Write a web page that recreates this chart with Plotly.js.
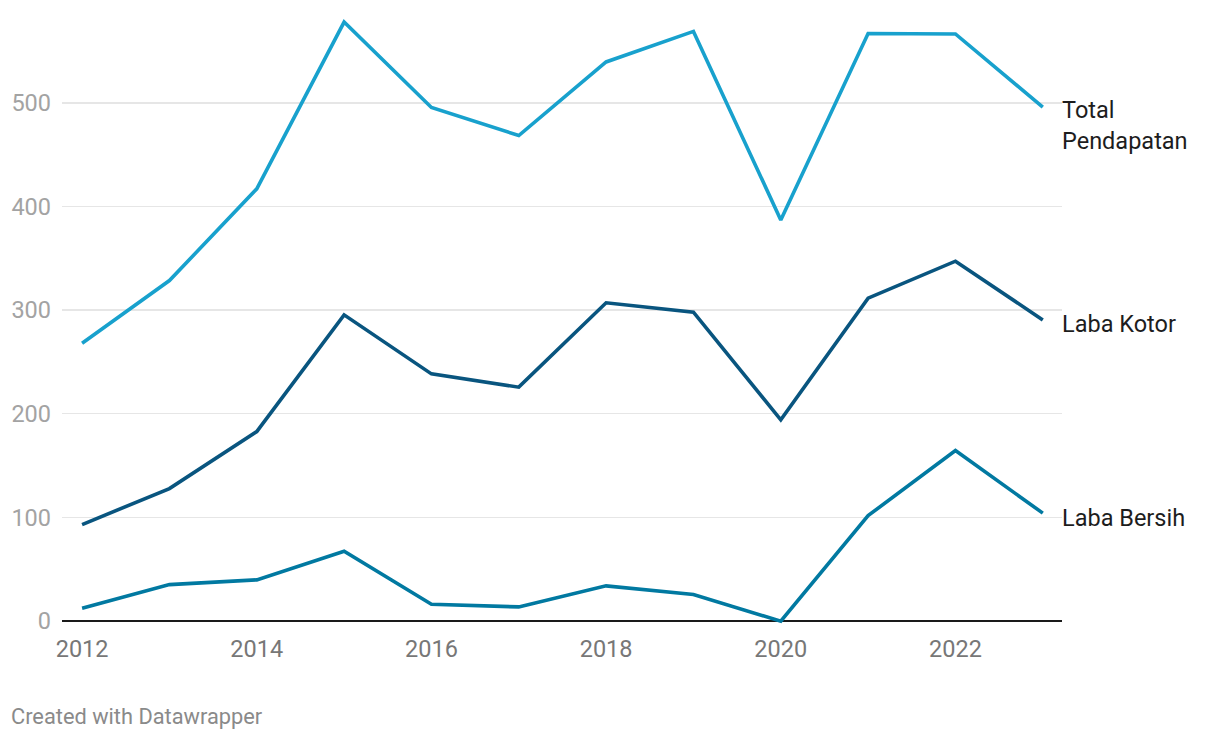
<!DOCTYPE html>
<html>
<head>
<meta charset="utf-8">
<script src="https://cdn.plot.ly/plotly-3.0.1.min.js"></script>
<style>
html,body{margin:0;padding:0;background:#fff;}
#chart{width:1220px;height:738px;}
</style>
</head>
<body>
<div id="chart"></div>
<script>
const years = [2012,2013,2014,2015,2016,2017,2018,2019,2020,2021,2022,2023];
const totalPendapatan = [268,328.5,417,578,495.5,468.5,539.5,569,387,567,566.5,496];
const labaKotor = [93,127.7,182.7,295.4,238.4,225.6,307,298,194,311.5,347.2,290.5];
const labaBersih = [12.2,35,39.6,67.3,16,13.5,33.8,25.4,-0.3,101.6,164.4,104];
const seriesNames = ["Total<br>Pendapatan","Laba Kotor","Laba Bersih"];
const xTicks = [2012,2014,2016,2018,2020,2022];
const yTicks = [0,100,200,300,400,500];

const colors = ["#18a1cd","#09557f","#0179a1"];
const seriesData = [totalPendapatan, labaKotor, labaBersih];
const FONT = "Roboto, 'Noto Sans', sans-serif";

const traces = seriesData.map((ys,i)=>({
  x: years, y: ys, type:'scatter', mode:'lines',
  line:{color:colors[i], width:3.6, shape:'linear'},
  hoverinfo:'skip', showlegend:false
}));

const annYShift = [0, -4, -5];
const annotations = seriesData.map((ys,i)=>({
  x: years[years.length-1], y: ys[ys.length-1], xref:'x', yref:'y',
  text: seriesNames[i], showarrow:false, xanchor:'left',
  yanchor: i===0 ? 'top' : 'middle',
  xshift: 17, yshift: i===0 ? 13 : annYShift[i],
  align:'left',
  font:{family:FONT, size:23.5, color:'#1d1d1d'}
}));
annotations.push({
  x:0, y:0, xref:'paper', yref:'paper', xanchor:'left', yanchor:'top',
  xshift:-53, yshift:-78, showarrow:false, text:'Created with Datawrapper',
  font:{family:FONT, size:21.8, color:'#8a8a8a'}
});

const layout = {
  width:1220, height:738,
  margin:{l:62, r:158, t:6, b:114},
  paper_bgcolor:'#fff', plot_bgcolor:'#fff',
  font:{family:FONT},
  xaxis:{
    range:[2011.77, 2023.22], tickvals:xTicks, ticktext:xTicks.map(String),
    showgrid:false, zeroline:false, showline:false, ticks:'',
    ticklabelstandoff:8,
    tickfont:{family:FONT, size:23.5, color:'#777777'}, fixedrange:true
  },
  yaxis:{
    range:[-3, 593.5], tickvals:yTicks, ticktext:yTicks.map(String),
    showgrid:true, gridcolor:'#e6e6e6', gridwidth:1.3,
    zeroline:true, zerolinecolor:'#1a1a1a', zerolinewidth:1.6,
    showline:false, ticks:'', ticklabelstandoff:10,
    tickfont:{family:FONT, size:23.5, color:'#a3a3a3'}, fixedrange:true
  },
  annotations: annotations
};

Plotly.newPlot('chart', traces, layout, {displayModeBar:false, staticPlot:true});
</script>
</body>
</html>
